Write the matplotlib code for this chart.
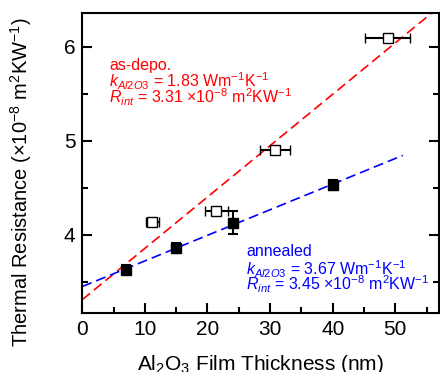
import matplotlib
matplotlib.use("Agg")
import matplotlib.pyplot as plt
from matplotlib.ticker import MultipleLocator
import numpy as np

plt.rcParams["font.family"] = ["Liberation Sans", "DejaVu Sans"]
plt.rcParams["mathtext.fontset"] = "custom"
plt.rcParams["mathtext.rm"] = "Liberation Sans"
plt.rcParams["mathtext.it"] = "Liberation Sans:italic"
plt.rcParams["mathtext.default"] = "regular"

# as-deposited (open squares)
depo_x = [11.2, 21.4, 30.8, 48.8]
depo_y = [4.14, 4.25, 4.90, 6.09]
depo_xerr = [1.1, 1.8, 2.4, 3.6]

# annealed (filled squares)
ann_x = [7.0, 15.0, 24.0, 40.0]
ann_y = [3.63, 3.86, 4.13, 4.53]
ann_yerr = [0.045, 0.05, 0.12, 0.05]

# fit parameters
depo_k, depo_r = 1.83, 3.31
ann_k, ann_r = 3.67, 3.45

fig = plt.figure(figsize=(4.4, 3.72), dpi=100)
ax = fig.add_axes([0.187, 0.159, 0.811, 0.806])

# fitted lines: R = Rint + d/k  (d in nm, R in 1e-8 m2K/W)
xd = np.array([0, 60])
ax.plot(xd, depo_r + xd * 0.1 / depo_k, color="red", lw=1.2, dashes=(6, 3), zorder=1)
xa = np.array([0, 51.2])
ax.plot(xa, ann_r + xa * 0.1 / ann_k, color="blue", lw=1.2, dashes=(6, 3), zorder=1)

ax.errorbar(depo_x, depo_y, xerr=depo_xerr, fmt="s", ms=6.5, mfc="white", mec="black",
            mew=1.0, ecolor="black", elinewidth=1.5, capsize=3.6, capthick=1.5, zorder=3)
ax.errorbar(ann_x, ann_y, yerr=ann_yerr, fmt="s", ms=7, mfc="black", mec="black",
            ecolor="black", elinewidth=1.5, capsize=3.6, capthick=1.5, zorder=3)

ax.set_xlim(0, 57)
ax.set_ylim(3.17, 6.36)
ax.xaxis.set_major_locator(MultipleLocator(10))
ax.xaxis.set_minor_locator(MultipleLocator(5))
ax.yaxis.set_major_locator(MultipleLocator(1))
ax.yaxis.set_minor_locator(MultipleLocator(0.5))
ax.tick_params(which="both", direction="in", top=False, right=True, width=1.5, labelsize=15)
ax.tick_params(which="major", length=7.5, pad=5)
ax.tick_params(which="minor", length=4.5)
for s in ax.spines.values():
    s.set_linewidth(1.5)

ax.set_xlabel("Al$_2$O$_3$ Film Thickness (nm)", fontsize=15, labelpad=10)
ax.set_ylabel("Thermal Resistance ($\\times$10$^{-8}$ m$^2$KW$^{-1}$)", fontsize=14.5)
ax.yaxis.set_label_coords(-0.135, 0.437)

ax.text(4.3, 5.755, "as-depo.", color="red", fontsize=11.5)
ax.text(4.3, 5.574, "$\\mathit{k}_{\\mathit{Al2O3}}$ = %.2f Wm$^{-1}$K$^{-1}$" % depo_k,
        color="red", fontsize=11.5)
ax.text(4.3, 5.404, "$\\mathit{R}_{\\mathit{int}}$ = %.2f $\\times$10$^{-8}$ m$^2$KW$^{-1}$" % depo_r,
        color="red", fontsize=11.5)

ax.text(26.2, 3.777, "annealed", color="blue", fontsize=11.5)
ax.text(26.2, 3.574, "$\\mathit{k}_{\\mathit{Al2O3}}$ = %.2f Wm$^{-1}$K$^{-1}$" % ann_k,
        color="blue", fontsize=11.5)
ax.text(26.2, 3.415, "$\\mathit{R}_{\\mathit{int}}$ = %.2f $\\times$10$^{-8}$ m$^2$KW$^{-1}$" % ann_r,
        color="blue", fontsize=11.5)

fig.savefig("out.png", dpi=100)
